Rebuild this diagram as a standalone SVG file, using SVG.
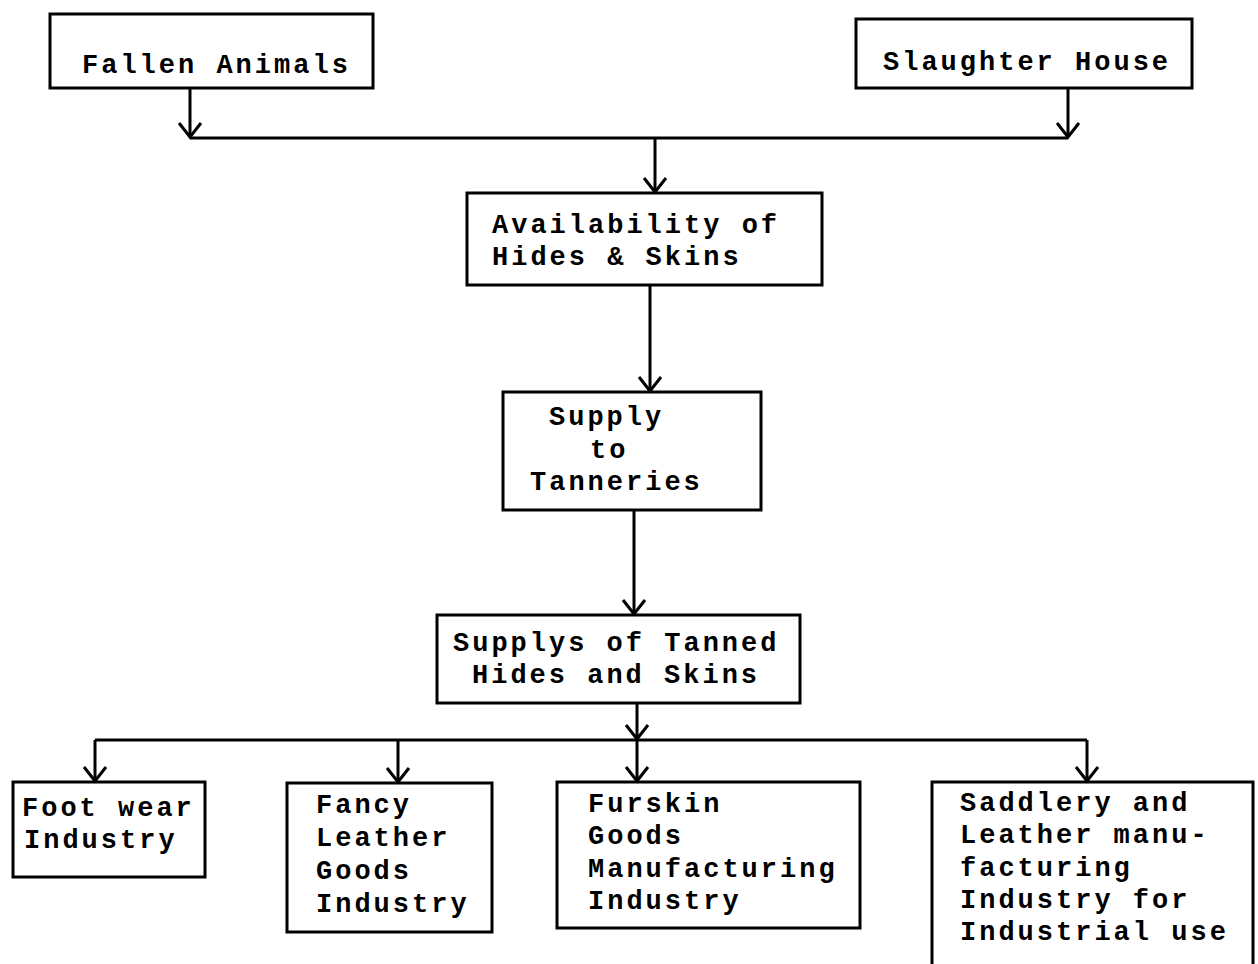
<svg xmlns="http://www.w3.org/2000/svg" width="1258" height="964" viewBox="0 0 1258 964">
  <style>
    .box { fill: none; stroke: #000; stroke-width: 3; }
    .con { fill: none; stroke: #000; stroke-width: 3; }
    .t { font-family: "Liberation Mono", "DejaVu Sans Mono", monospace; font-size: 27px; letter-spacing: 3px; fill: #000; font-weight: bold; }
  </style>
  <defs>
    <marker id="arr" markerUnits="userSpaceOnUse" markerWidth="40" markerHeight="40" refX="0" refY="0" viewBox="-20 -20 40 40" orient="auto" overflow="visible">
      <path d="M-14,-11 L0,0 L-14,11" fill="none" stroke="#000" stroke-width="3"/>
    </marker>
  </defs>
  <rect width="1258" height="964" fill="#fff"/>

  <g id="connectors">
    <path class="con" d="M190,88 V137" marker-end="url(#arr)"/>
    <path class="con" d="M1068,88 V137" marker-end="url(#arr)"/>
    <path class="con" d="M190,138 H1068"/>
    <path class="con" d="M655,138 V192" marker-end="url(#arr)"/>
    <path class="con" d="M650,285 V391" marker-end="url(#arr)"/>
    <path class="con" d="M634,510 V614" marker-end="url(#arr)"/>
    <path class="con" d="M637,703 V739" marker-end="url(#arr)"/>
    <path class="con" d="M637,740 V781" marker-end="url(#arr)"/>
    <path class="con" d="M95,740 H1087"/>
    <path class="con" d="M95,740 V781" marker-end="url(#arr)"/>
    <path class="con" d="M398,740 V782" marker-end="url(#arr)"/>
    <path class="con" d="M1087,740 V781" marker-end="url(#arr)"/>
  </g>

  <g id="fallen-animals">
    <rect class="box" x="50" y="14" width="323" height="74"/>
    <text class="t" x="82" y="73">Fallen Animals</text>
  </g>
  <g id="slaughter-house">
    <rect class="box" x="856" y="19" width="336" height="69"/>
    <text class="t" x="883" y="70">Slaughter House</text>
  </g>
  <g id="availability">
    <rect class="box" x="467" y="193" width="355" height="92"/>
    <text class="t" x="492" y="233">Availability of</text>
    <text class="t" x="492" y="265">Hides &amp; Skins</text>
  </g>
  <g id="supply-tanneries">
    <rect class="box" x="503" y="392" width="258" height="118"/>
    <text class="t" x="549" y="425">Supply</text>
    <text class="t" x="590" y="458">to</text>
    <text class="t" x="530" y="490">Tanneries</text>
  </g>
  <g id="supplys-tanned">
    <rect class="box" x="437" y="615" width="363" height="88"/>
    <text class="t" x="453" y="651">Supplys of Tanned</text>
    <text class="t" x="472" y="683">Hides and Skins</text>
  </g>
  <g id="footwear">
    <rect class="box" x="13" y="782" width="192" height="95"/>
    <text class="t" x="22" y="816">Foot wear</text>
    <text class="t" x="24" y="848">Industry</text>
  </g>
  <g id="fancy-leather">
    <rect class="box" x="287" y="783" width="205" height="149"/>
    <text class="t" x="316" y="813">Fancy</text>
    <text class="t" x="316" y="846">Leather</text>
    <text class="t" x="316" y="879">Goods</text>
    <text class="t" x="316" y="912">Industry</text>
  </g>
  <g id="furskin">
    <rect class="box" x="557" y="782" width="303" height="146"/>
    <text class="t" x="588" y="812">Furskin</text>
    <text class="t" x="588" y="844">Goods</text>
    <text class="t" x="588" y="877">Manufacturing</text>
    <text class="t" x="588" y="909">Industry</text>
  </g>
  <g id="saddlery">
    <path class="box" d="M932,966 V782 H1253 V966"/>
    <text class="t" x="960" y="811">Saddlery and</text>
    <text class="t" x="960" y="843">Leather manu-</text>
    <text class="t" x="960" y="876">facturing</text>
    <text class="t" x="960" y="908">Industry for</text>
    <text class="t" x="960" y="940">Industrial use</text>
  </g>
</svg>
